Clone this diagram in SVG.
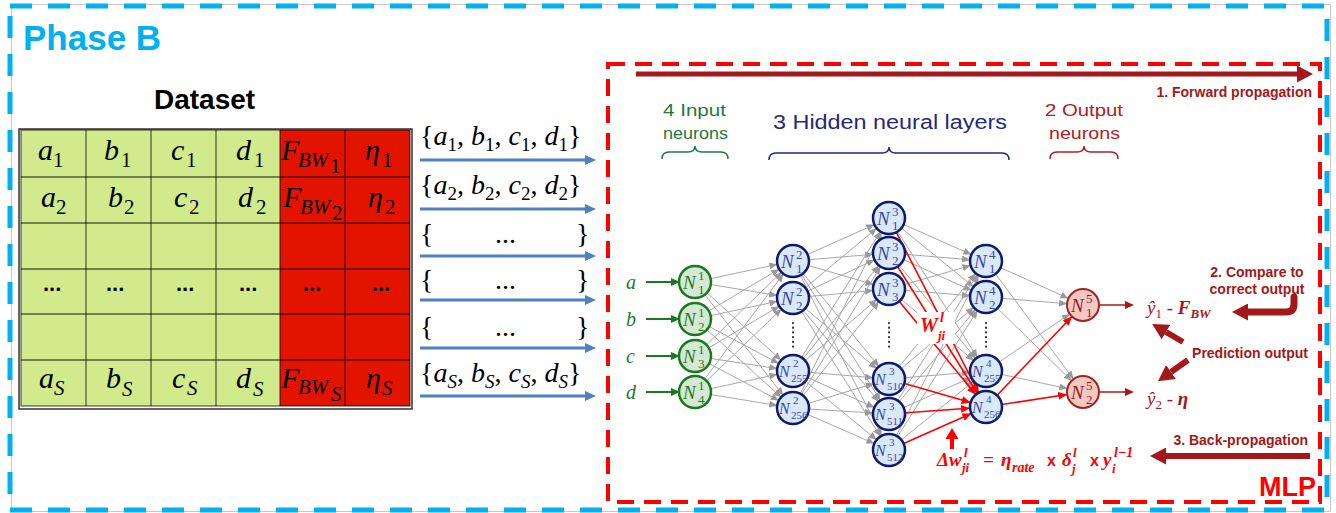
<svg xmlns="http://www.w3.org/2000/svg" width="1336" height="513" viewBox="0 0 1336 513">
<style>
.sans{font-family:"Liberation Sans",Arial,sans-serif}
.ser{font-family:"Liberation Serif","Times New Roman",serif}
.it{font-style:italic}
.tm{font-family:"Liberation Serif",serif;font-style:italic;font-size:30px;fill:#000}
.ts{font-family:"Liberation Serif",serif;font-size:21px;fill:#000}
.tsi{font-family:"Liberation Serif",serif;font-style:italic;font-size:21px;fill:#000}
.dots{font-family:"Liberation Sans",sans-serif;font-weight:bold;font-size:22px;fill:#000}
.sn{font-family:"Liberation Serif",serif;font-size:28px;fill:#000}
.g{stroke:#a8a8a8;stroke-width:1;fill:none;marker-end:url(#mg)}
.r{stroke:#ff0000;stroke-width:1.6;fill:none;marker-end:url(#mr)}
.cin{fill:#d5e8d4;stroke:#187a1e;stroke-width:2.5}
.chid{fill:#dae8fc;stroke:#0d1a6e;stroke-width:2.5}
.cout{fill:#f5c8c4;stroke:#a32222;stroke-width:2}
.nN{font-family:"Liberation Serif",serif;font-style:italic;font-size:19px}
.nNs{font-family:"Liberation Serif",serif;font-style:italic;font-size:16px}
.ns{font-family:"Liberation Serif",serif;font-size:13px}
.ns3{font-family:"Liberation Serif",serif;font-size:11px}
.gi{fill:#1e7b2a}
.hi{fill:#3c4a9c}
.oi{fill:#8e1c1c}
.lbl{font-family:"Liberation Sans",Arial,sans-serif;font-weight:bold;font-size:14px;fill:#a31818}
.eq{font-family:"Liberation Serif",serif;font-weight:bold;font-style:italic;fill:#ff0000}
.vd{stroke:#333;stroke-width:2.2;stroke-linecap:round;stroke-dasharray:0.1 4.6}
</style>
<defs>
<marker id="mg" markerUnits="userSpaceOnUse" markerWidth="8" markerHeight="7" refX="24" refY="3.5" orient="auto"><path d="M0,0 L8,3.5 L0,7 z" fill="#999999"/></marker>
<marker id="mr" markerUnits="userSpaceOnUse" markerWidth="9" markerHeight="8" refX="25" refY="4" orient="auto"><path d="M0,0 L9,4 L0,8 z" fill="#ff0000"/></marker>
<marker id="mb" markerUnits="userSpaceOnUse" markerWidth="11" markerHeight="10" refX="0" refY="5" orient="auto"><path d="M0,0 L11,5 L0,10 z" fill="#4f81bd"/></marker>
<marker id="mgr" markerUnits="userSpaceOnUse" markerWidth="9" markerHeight="8" refX="0" refY="4" orient="auto"><path d="M0,0 L9,4 L0,8 z" fill="#187a1e"/></marker>
<marker id="mdr" markerUnits="userSpaceOnUse" markerWidth="9" markerHeight="8" refX="0" refY="4" orient="auto"><path d="M0,0 L9,4 L0,8 z" fill="#a31818"/></marker>
<marker id="mbig" markerUnits="userSpaceOnUse" markerWidth="16" markerHeight="17" refX="0" refY="8.5" orient="auto"><path d="M0,0 L16,8.5 L0,17 z" fill="#a31818"/></marker>
</defs>
<rect width="1336" height="513" fill="#ffffff"/>

<!-- outer frame -->
<rect x="11.5" y="4.5" width="1319" height="507" fill="none" stroke="#c8c8c8" stroke-width="1"/>
<rect x="10" y="6" width="1317" height="504" fill="none" stroke="#00b0f0" stroke-width="5" stroke-dasharray="22 16"/>
<text x="23" y="50" class="sans" font-weight="bold" font-size="35" fill="#00b0f0">Phase B</text>

<!-- Dataset table -->
<g id="dataset">
<text x="154" y="109" class="sans" font-weight="bold" font-size="28" fill="#000">Dataset</text>
<rect x="19" y="129" width="393" height="280" fill="#fff" stroke="#333" stroke-width="1.5"/>
<rect x="21" y="130" width="259" height="276" fill="#d0ea8c"/>
<rect x="280" y="130" width="130" height="276" fill="#e21400"/>
<g stroke="#000" stroke-opacity="0.6" stroke-width="1.3">
<path d="M86,130V406M151,130V406M216,130V406M280,130V406M345,130V406"/>
<path d="M21,177H410M21,223H410M21,269H410M21,314H410M21,360H410"/>
<rect x="21" y="130" width="389" height="276" fill="none"/>
</g>
<!-- row 1 -->
<text class="tm" x="38" y="160">a</text><text class="ts" x="53" y="167">1</text>
<text class="tm" x="104" y="160">b</text><text class="ts" x="121" y="167">1</text>
<text class="tm" x="171" y="160">c</text><text class="ts" x="186" y="167">1</text>
<text class="tm" x="236" y="160">d</text><text class="ts" x="254" y="167">1</text>
<text class="tm" x="281" y="160">F</text><text class="tsi" x="298" y="167">BW</text><text class="ts" x="330" y="173" font-size="14">1</text>
<text class="tm" x="365" y="160">η</text><text class="ts" x="382" y="167">1</text>
<!-- row 2 -->
<text class="tm" x="41" y="207">a</text><text class="ts" x="56" y="214">2</text>
<text class="tm" x="108" y="207">b</text><text class="ts" x="124" y="214">2</text>
<text class="tm" x="174" y="207">c</text><text class="ts" x="189" y="214">2</text>
<text class="tm" x="238" y="207">d</text><text class="ts" x="256" y="214">2</text>
<text class="tm" x="283" y="207">F</text><text class="tsi" x="300" y="214">BW</text><text class="ts" x="332" y="220" font-size="14">2</text>
<text class="tm" x="368" y="207">η</text><text class="ts" x="385" y="214">2</text>
<!-- dots row -->
<text class="dots" x="43" y="291">...</text>
<text class="dots" x="106" y="291">...</text>
<text class="dots" x="176" y="291">...</text>
<text class="dots" x="239" y="291">...</text>
<text class="dots" x="303" y="291">...</text>
<text class="dots" x="372" y="291">...</text>
<!-- row S -->
<text class="tm" x="39" y="388">a</text><text class="tsi" x="54" y="395">S</text>
<text class="tm" x="106" y="388">b</text><text class="tsi" x="122" y="396">S</text>
<text class="tm" x="172" y="388">c</text><text class="tsi" x="187" y="395">S</text>
<text class="tm" x="236" y="388">d</text><text class="tsi" x="253" y="396">S</text>
<text class="tm" x="281" y="388">F</text><text class="tsi" x="298" y="394">BW</text><text class="tsi" x="331" y="401" font-size="17">S</text>
<text class="tm" x="366" y="388">η</text><text class="tsi" x="382" y="395">S</text>
</g>

<!-- sample vectors -->
<g id="samples">
<text class="sn" x="420" y="145">{<tspan class="it">a</tspan><tspan font-size="19" dy="6">1</tspan><tspan dy="-6">, </tspan><tspan class="it">b</tspan><tspan font-size="19" dy="6">1</tspan><tspan dy="-6">, </tspan><tspan class="it">c</tspan><tspan font-size="19" dy="6">1</tspan><tspan dy="-6">, </tspan><tspan class="it">d</tspan><tspan font-size="19" dy="6">1</tspan><tspan dy="-6">}</tspan></text>
<text class="sn" x="420" y="194">{<tspan class="it">a</tspan><tspan font-size="19" dy="6">2</tspan><tspan dy="-6">, </tspan><tspan class="it">b</tspan><tspan font-size="19" dy="6">2</tspan><tspan dy="-6">, </tspan><tspan class="it">c</tspan><tspan font-size="19" dy="6">2</tspan><tspan dy="-6">, </tspan><tspan class="it">d</tspan><tspan font-size="19" dy="6">2</tspan><tspan dy="-6">}</tspan></text>
<text class="sn" x="420" y="243">{</text><text class="sn" x="495" y="243" font-size="26">...</text><text class="sn" x="576" y="243">}</text>
<text class="sn" x="420" y="289">{</text><text class="sn" x="495" y="289" font-size="26">...</text><text class="sn" x="576" y="289">}</text>
<text class="sn" x="420" y="336">{</text><text class="sn" x="495" y="336" font-size="26">...</text><text class="sn" x="576" y="336">}</text>
<text class="sn" x="420" y="382">{<tspan class="it">a</tspan><tspan class="it" font-size="19" dy="6">S</tspan><tspan dy="-6">, </tspan><tspan class="it">b</tspan><tspan class="it" font-size="19" dy="6">S</tspan><tspan dy="-6">, </tspan><tspan class="it">c</tspan><tspan class="it" font-size="19" dy="6">S</tspan><tspan dy="-6">, </tspan><tspan class="it">d</tspan><tspan class="it" font-size="19" dy="6">S</tspan><tspan dy="-6">}</tspan></text>
</g>
<g id="sample-arrows" stroke="#4f81bd" stroke-width="3" marker-end="url(#mb)">
<path d="M420,160H585"/>
<path d="M420,209H585"/>
<path d="M420,256H585"/>
<path d="M420,300H585"/>
<path d="M420,348H585"/>
<path d="M420,396H585"/>
</g>

<!-- MLP box -->
<g id="mlp-box">
<rect x="608" y="64" width="712" height="438" fill="none" stroke="#ff0000" stroke-width="4" stroke-dasharray="17 10"/>
<text x="1316" y="496" text-anchor="end" class="sans" font-weight="bold" font-size="27" fill="#ff0000">MLP</text>
</g>

<!-- forward propagation -->
<path d="M636,74H1297" stroke="#a31818" stroke-width="5" marker-end="url(#mbig)"/>
<text class="lbl" x="1312" y="97" text-anchor="end">1. Forward propagation</text>

<!-- layer headings -->
<g id="layer-labels" class="sans">
<text x="663" y="116" font-size="17" fill="#1e7b3c" textLength="63" lengthAdjust="spacingAndGlyphs">4 Input</text>
<text x="663" y="139" font-size="17" fill="#1e7b3c" textLength="65" lengthAdjust="spacingAndGlyphs">neurons</text>
<text x="773" y="129" font-size="20" fill="#1f2a7c" textLength="234" lengthAdjust="spacingAndGlyphs">3 Hidden neural layers</text>
<text x="1045" y="116" font-size="17" fill="#b02020" textLength="78" lengthAdjust="spacingAndGlyphs">2 Output</text>
<text x="1049" y="139" font-size="17" fill="#b02020" textLength="71" lengthAdjust="spacingAndGlyphs">neurons</text>
</g>
<g id="braces" fill="none" stroke-width="1.5">
<path d="M662,159 Q662,152 669,152 L688,152 Q695,152 695,146 Q695,152 702,152 L721,152 Q728,152 728,159" stroke="#1e7b3c"/>
<path d="M769,160 Q769,153 776,153 L882,153 Q889,153 889,147 Q889,153 896,153 L1002,153 Q1009,153 1009,160" stroke="#1f2a7c"/>
<path d="M1050,159 Q1050,152 1057,152 L1077,152 Q1084,152 1084,146 Q1084,152 1091,152 L1111,152 Q1118,152 1118,159" stroke="#b02020"/>
</g>

<!-- connectors -->
<g id="connectors">
<g>
<path class="g" d="M695,282L793,261"/><path class="g" d="M695,282L793,298"/><path class="g" d="M695,282L793,371"/><path class="g" d="M695,282L793,408"/>
<path class="g" d="M695,319L793,261"/><path class="g" d="M695,319L793,298"/><path class="g" d="M695,319L793,371"/><path class="g" d="M695,319L793,408"/>
<path class="g" d="M695,356L793,261"/><path class="g" d="M695,356L793,298"/><path class="g" d="M695,356L793,371"/><path class="g" d="M695,356L793,408"/>
<path class="g" d="M695,392L793,261"/><path class="g" d="M695,392L793,298"/><path class="g" d="M695,392L793,371"/><path class="g" d="M695,392L793,408"/>
</g>
<g>
<path class="g" d="M793,261L889,218"/><path class="g" d="M793,261L889,253"/><path class="g" d="M793,261L889,289"/><path class="g" d="M793,261L889,379"/><path class="g" d="M793,261L889,414"/><path class="g" d="M793,261L889,450"/>
<path class="g" d="M793,298L889,218"/><path class="g" d="M793,298L889,253"/><path class="g" d="M793,298L889,289"/><path class="g" d="M793,298L889,379"/><path class="g" d="M793,298L889,414"/><path class="g" d="M793,298L889,450"/>
<path class="g" d="M793,371L889,218"/><path class="g" d="M793,371L889,253"/><path class="g" d="M793,371L889,289"/><path class="g" d="M793,371L889,379"/><path class="g" d="M793,371L889,414"/><path class="g" d="M793,371L889,450"/>
<path class="g" d="M793,408L889,218"/><path class="g" d="M793,408L889,253"/><path class="g" d="M793,408L889,289"/><path class="g" d="M793,408L889,379"/><path class="g" d="M793,408L889,414"/><path class="g" d="M793,408L889,450"/>
</g>
<g>
<path class="g" d="M889,218L986,261"/><path class="g" d="M889,218L986,297"/><path class="g" d="M889,218L986,371"/>
<path class="g" d="M889,253L986,261"/><path class="g" d="M889,253L986,297"/><path class="g" d="M889,253L986,371"/>
<path class="g" d="M889,289L986,261"/><path class="g" d="M889,289L986,297"/><path class="g" d="M889,289L986,371"/>
<path class="g" d="M889,379L986,261"/><path class="g" d="M889,379L986,297"/><path class="g" d="M889,379L986,371"/>
<path class="g" d="M889,414L986,261"/><path class="g" d="M889,414L986,297"/><path class="g" d="M889,414L986,371"/>
<path class="g" d="M889,450L986,261"/><path class="g" d="M889,450L986,297"/><path class="g" d="M889,450L986,371"/>
</g>
<g>
<path class="g" d="M986,261L1083,305"/><path class="g" d="M986,261L1083,392"/>
<path class="g" d="M986,297L1083,305"/><path class="g" d="M986,297L1083,392"/>
<path class="g" d="M986,371L1083,305"/><path class="g" d="M986,371L1083,392"/>
</g>
<g>
<path class="r" d="M889,218L986,407"/><path class="r" d="M889,253L986,407"/><path class="r" d="M889,289L986,407"/>
<path class="r" d="M889,379L986,407"/><path class="r" d="M889,414L986,407"/><path class="r" d="M889,450L986,407"/>
<path class="r" d="M986,407L1083,305"/><path class="r" d="M986,407L1083,392"/>
</g>
<g stroke="#187a1e" stroke-width="2" marker-end="url(#mgr)">
<path d="M646,282H671"/><path d="M646,319H671"/><path d="M646,356H671"/><path d="M646,392H671"/>
</g>
<g stroke="#a31818" stroke-width="1.5" marker-end="url(#mdr)">
<path d="M1100,305H1125"/><path d="M1100,392H1125"/>
</g>
</g>

<!-- weight label -->
<g id="weight-label">
<rect x="917" y="312" width="38" height="32" fill="#fff"/>
<text class="eq" x="920" y="332" font-size="20">W</text>
<text class="eq" x="940" y="322" font-size="14">l</text>
<text class="eq" x="938" y="340" font-size="13">ji</text>
</g>

<!-- input nodes -->
<g class="ser">
<text class="it gi" x="626" y="289" font-size="20">a</text>
<text class="it gi" x="626" y="326" font-size="20">b</text>
<text class="it gi" x="626" y="363" font-size="20">c</text>
<text class="it gi" x="626" y="399" font-size="20">d</text>
</g>
<g id="in1"><circle class="cin" cx="695" cy="282" r="16"/><text class="nN gi" x="683" y="289">N</text><text class="ns gi" x="698" y="280">1</text><text class="ns gi" x="698" y="294">1</text></g>
<g id="in2"><circle class="cin" cx="695" cy="319" r="16"/><text class="nN gi" x="683" y="326">N</text><text class="ns gi" x="698" y="317">1</text><text class="ns gi" x="698" y="331">2</text></g>
<g id="in3"><circle class="cin" cx="695" cy="356" r="16"/><text class="nN gi" x="683" y="363">N</text><text class="ns gi" x="698" y="354">1</text><text class="ns gi" x="698" y="368">3</text></g>
<g id="in4"><circle class="cin" cx="695" cy="392" r="16"/><text class="nN gi" x="683" y="399">N</text><text class="ns gi" x="698" y="390">1</text><text class="ns gi" x="698" y="404">4</text></g>

<!-- hidden layer 1 -->
<g id="h1-1"><circle class="chid" cx="793" cy="261" r="16"/><text class="nN hi" x="781" y="268">N</text><text class="ns hi" x="796" y="259">2</text><text class="ns hi" x="796" y="273">1</text></g>
<g id="h1-2"><circle class="chid" cx="793" cy="298" r="16"/><text class="nN hi" x="781" y="305">N</text><text class="ns hi" x="796" y="296">2</text><text class="ns hi" x="796" y="310">2</text></g>
<path class="vd" d="M793,323V350"/>
<g id="h1-255"><circle class="chid" cx="793" cy="371" r="16"/><text class="nNs hi" x="779" y="377">N</text><text class="ns3 hi" x="793" y="367">2</text><text class="ns3 hi" x="791" y="382">255</text></g>
<g id="h1-256"><circle class="chid" cx="793" cy="408" r="16"/><text class="nNs hi" x="779" y="414">N</text><text class="ns3 hi" x="793" y="404">2</text><text class="ns3 hi" x="791" y="419">256</text></g>

<!-- hidden layer 2 -->
<g id="h2-1"><circle class="chid" cx="889" cy="218" r="16"/><text class="nN hi" x="877" y="225">N</text><text class="ns hi" x="892" y="216">3</text><text class="ns hi" x="892" y="230">1</text></g>
<g id="h2-2"><circle class="chid" cx="889" cy="253" r="16"/><text class="nN hi" x="877" y="260">N</text><text class="ns hi" x="892" y="251">3</text><text class="ns hi" x="892" y="265">2</text></g>
<g id="h2-3"><circle class="chid" cx="889" cy="289" r="16"/><text class="nN hi" x="877" y="296">N</text><text class="ns hi" x="892" y="287">3</text><text class="ns hi" x="892" y="301">3</text></g>
<path class="vd" d="M889,323V349"/>
<g id="h2-510"><circle class="chid" cx="889" cy="379" r="16"/><text class="nNs hi" x="875" y="385">N</text><text class="ns3 hi" x="889" y="375">3</text><text class="ns3 hi" x="887" y="390">510</text></g>
<g id="h2-511"><circle class="chid" cx="889" cy="414" r="16"/><text class="nNs hi" x="875" y="420">N</text><text class="ns3 hi" x="889" y="410">3</text><text class="ns3 hi" x="887" y="425">511</text></g>
<g id="h2-512"><circle class="chid" cx="889" cy="450" r="16"/><text class="nNs hi" x="875" y="456">N</text><text class="ns3 hi" x="889" y="446">3</text><text class="ns3 hi" x="887" y="461">512</text></g>

<!-- hidden layer 3 -->
<g id="h3-1"><circle class="chid" cx="986" cy="261" r="16"/><text class="nN hi" x="974" y="268">N</text><text class="ns hi" x="989" y="259">4</text><text class="ns hi" x="989" y="273">1</text></g>
<g id="h3-2"><circle class="chid" cx="986" cy="297" r="16"/><text class="nN hi" x="974" y="304">N</text><text class="ns hi" x="989" y="295">4</text><text class="ns hi" x="989" y="309">2</text></g>
<path class="vd" d="M986,323V350"/>
<g id="h3-255"><circle class="chid" cx="986" cy="371" r="16"/><text class="nNs hi" x="972" y="377">N</text><text class="ns3 hi" x="986" y="367">4</text><text class="ns3 hi" x="984" y="382">255</text></g>
<g id="h3-256"><circle class="chid" cx="986" cy="407" r="16"/><text class="nNs hi" x="972" y="413">N</text><text class="ns3 hi" x="986" y="403">4</text><text class="ns3 hi" x="984" y="418">256</text></g>

<!-- output layer -->
<g id="out1"><circle class="cout" cx="1083" cy="305" r="16"/><text class="nN oi" x="1071" y="312">N</text><text class="ns oi" x="1086" y="303">5</text><text class="ns oi" x="1086" y="317">1</text></g>
<g id="out2"><circle class="cout" cx="1083" cy="392" r="16"/><text class="nN oi" x="1071" y="399">N</text><text class="ns oi" x="1086" y="390">5</text><text class="ns oi" x="1086" y="404">2</text></g>

<!-- outputs -->
<text class="ser" x="1147" y="314" font-size="19" fill="#a31818"><tspan class="it">ŷ</tspan><tspan font-size="13" dy="4">1</tspan><tspan dy="-4"> - </tspan><tspan class="it" font-weight="bold">F</tspan><tspan class="it" font-weight="bold" font-size="13" dy="4">BW</tspan></text>
<text class="ser" x="1147" y="405" font-size="19" fill="#a31818"><tspan class="it">ŷ</tspan><tspan font-size="13" dy="4">2</tspan><tspan dy="-4"> - </tspan><tspan class="it" font-weight="bold">η</tspan></text>

<!-- compare / prediction / back-propagation -->
<text class="lbl" x="1257" y="277" text-anchor="middle">2. Compare to</text>
<text class="lbl" x="1257" y="294" text-anchor="middle">correct output</text>
<path d="M1294,297V304Q1294,312 1286,312H1248" fill="none" stroke="#a31818" stroke-width="7" stroke-linecap="round" marker-end="url(#mbig)"/>
<text class="lbl" x="1250" y="358" text-anchor="middle" font-size="13.5">Prediction output</text>
<path d="M1183,342L1166,332" stroke="#a31818" stroke-width="6" marker-end="url(#mbig)"/>
<path d="M1188,360L1171,372" stroke="#a31818" stroke-width="6" marker-end="url(#mbig)"/>
<text class="lbl" x="1308" y="445" text-anchor="end">3. Back-propagation</text>
<path d="M1310,456H1166" stroke="#a31818" stroke-width="6" marker-end="url(#mbig)"/>

<!-- update rule -->
<g id="update-rule">
<path d="M952,449V438" stroke="#ff0000" stroke-width="4"/>
<polygon points="945.5,439 958.5,439 952,428" fill="#ff0000"/>
<text class="eq" x="937" y="466" font-size="19">Δw</text>
<text class="eq" x="964" y="457" font-size="13">l</text>
<text class="eq" x="962" y="472" font-size="13">ji</text>
<text class="eq" x="983" y="466" font-size="19" font-style="normal">=</text>
<text class="eq" x="1001" y="466" font-size="19">η</text>
<text class="eq" x="1012" y="472" font-size="14">rate</text>
<text x="1047" y="466" class="sans" font-weight="bold" font-size="16" fill="#ff0000">x</text>
<text class="eq" x="1062" y="466" font-size="19">δ</text>
<text class="eq" x="1073" y="457" font-size="13">l</text>
<text class="eq" x="1072" y="473" font-size="13">j</text>
<text x="1090" y="466" class="sans" font-weight="bold" font-size="16" fill="#ff0000">x</text>
<text class="eq" x="1103" y="466" font-size="19">y</text>
<text class="eq" x="1112" y="473" font-size="13">i</text>
<text class="eq" x="1114" y="457" font-size="14">l−1</text>
</g>
</svg>
